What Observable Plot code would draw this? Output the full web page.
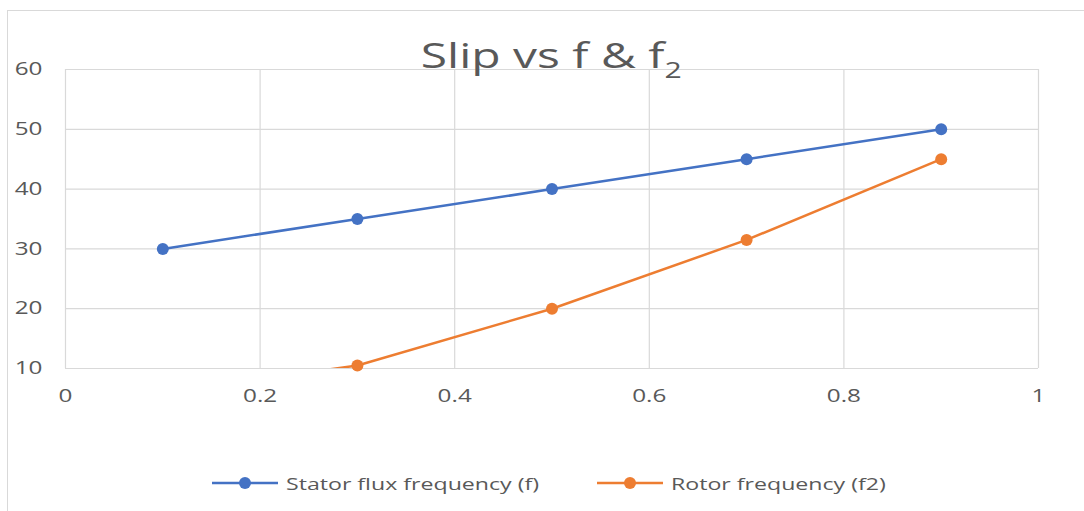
<!DOCTYPE html>
<html><head><meta charset="utf-8">
<script src="https://cdn.jsdelivr.net/npm/d3@7"></script>
<script src="https://cdn.jsdelivr.net/npm/@observablehq/plot@0.6"></script>
<style>
body{margin:0;background:#fff;font-family:"Open Sans",sans-serif;}
#wrap{position:relative;width:1084px;height:511px;overflow:hidden;background:#fff;}
#border{position:absolute;left:7px;top:10px;width:1100px;height:540px;border:1px solid #d9d9d9;}
#chart{position:absolute;left:0;top:0;}
#title{position:absolute;left:9px;width:1084px;top:37px;line-height:35px;text-align:center;font-size:35px;color:#595959;white-space:nowrap;}
#title span.t{display:inline-block;transform:scaleX(1.37);transform-origin:50% 50%;}
#title sub{font-size:22px;vertical-align:-10px;line-height:0;}
.leg{position:absolute;top:470px;height:26px;display:flex;align-items:center;font-size:17px;color:#595959;white-space:nowrap;}
.leg svg{margin-right:8px;}
.leg span{display:inline-block;transform:scaleX(1.36);transform-origin:0 50%;}
</style></head>
<body>
<div id="wrap">
  <div id="border"></div>
  <div id="chart"></div>
  <div id="title"><span class="t">Slip vs f &amp; f<sub>2</sub></span></div>
  <div id="legend"></div>
</div>
<script>
// Data
const slip = [0.1, 0.3, 0.5, 0.7, 0.9];
const statorFreq = [30, 35, 40, 45, 50];
const rotorFreq = [6, 10.5, 20, 31.5, 45];
const seriesNames = ["Stator flux frequency (f)", "Rotor frequency (f2)"];
const seriesColors = ["#4472C4", "#ED7D31"];
const xTicks = [0, 0.2, 0.4, 0.6, 0.8, 1];
const yTicks = [10, 20, 30, 40, 50, 60];

const rows = [];
slip.forEach((s, i) => {
  rows.push({x: s, y: statorFreq[i], series: seriesNames[0]});
  rows.push({x: s, y: rotorFreq[i], series: seriesNames[1]});
});
const yMin = yTicks[0], yMax = yTicks[yTicks.length - 1];

const chart = Plot.plot({
  width: 1084,
  height: 420,
  marginLeft: 65,
  marginRight: 46,
  marginTop: 69,
  marginBottom: 52,
  style: {fontFamily: "Open Sans, sans-serif", fontSize: "18px", color: "#595959", background: "transparent"},
  x: {domain: [0, 1], ticks: xTicks, tickSize: 0, label: null},
  y: {domain: [yMin, yMax], ticks: yTicks, tickSize: 0, label: null},
  color: {domain: seriesNames, range: seriesColors},
  marks: [
    Plot.gridX(xTicks, {stroke: "#d9d9d9", strokeOpacity: 1, strokeWidth: 1.2}),
    Plot.gridY(yTicks, {stroke: "#d9d9d9", strokeOpacity: 1, strokeWidth: 1.2}),
    Plot.axisX({ticks: xTicks, tickSize: 0, tickPadding: 21, tickFormat: d => String(d), fill: "#595959"}),
    Plot.axisY({ticks: yTicks, tickSize: 0, tickPadding: 23, tickFormat: d => String(d), fill: "#595959"}),
    Plot.line(rows, {x: "x", y: "y", z: "series", stroke: "series", strokeWidth: 2.5, clip: true}),
    Plot.dot(rows, {x: "x", y: "y", fill: "series", r: 6, filter: d => d.y >= yMin && d.y <= yMax})
  ]
});
document.getElementById("chart").appendChild(chart);

// widen axis label glyphs horizontally about their anchor, like the reference
try {
  const texts = Array.from(chart.querySelectorAll("text"));
  texts.forEach(t => {
    const r = t.getBoundingClientRect();
    const anchor = getComputedStyle(t).textAnchor;
    const cx = anchor === "end" ? r.right : anchor === "start" ? r.left : (r.left + r.right) / 2;
    const cy = (r.top + r.bottom) / 2;
    const parent = t.parentNode;
    const pt = chart.createSVGPoint();
    pt.x = cx; pt.y = cy;
    const p = pt.matrixTransform(parent.getScreenCTM().inverse());
    const g = document.createElementNS("http://www.w3.org/2000/svg", "g");
    g.setAttribute("transform", `translate(${p.x},${p.y}) scale(1.35,1) translate(${-p.x},${-p.y})`);
    parent.insertBefore(g, t);
    g.appendChild(t);
  });
} catch (e) {}

// Legend
const legend = document.getElementById("legend");
const legLefts = [212, 597];
seriesNames.forEach((name, i) => {
  const div = document.createElement("div");
  div.className = "leg";
  div.style.left = legLefts[i] + "px";
  div.innerHTML = `<svg width="66" height="16"><line x1="0" y1="8" x2="66" y2="8" stroke="${seriesColors[i]}" stroke-width="2.5"/><circle cx="33" cy="8" r="6" fill="${seriesColors[i]}"/></svg><span>${name}</span>`;
  legend.appendChild(div);
});
</script>
</body></html>
